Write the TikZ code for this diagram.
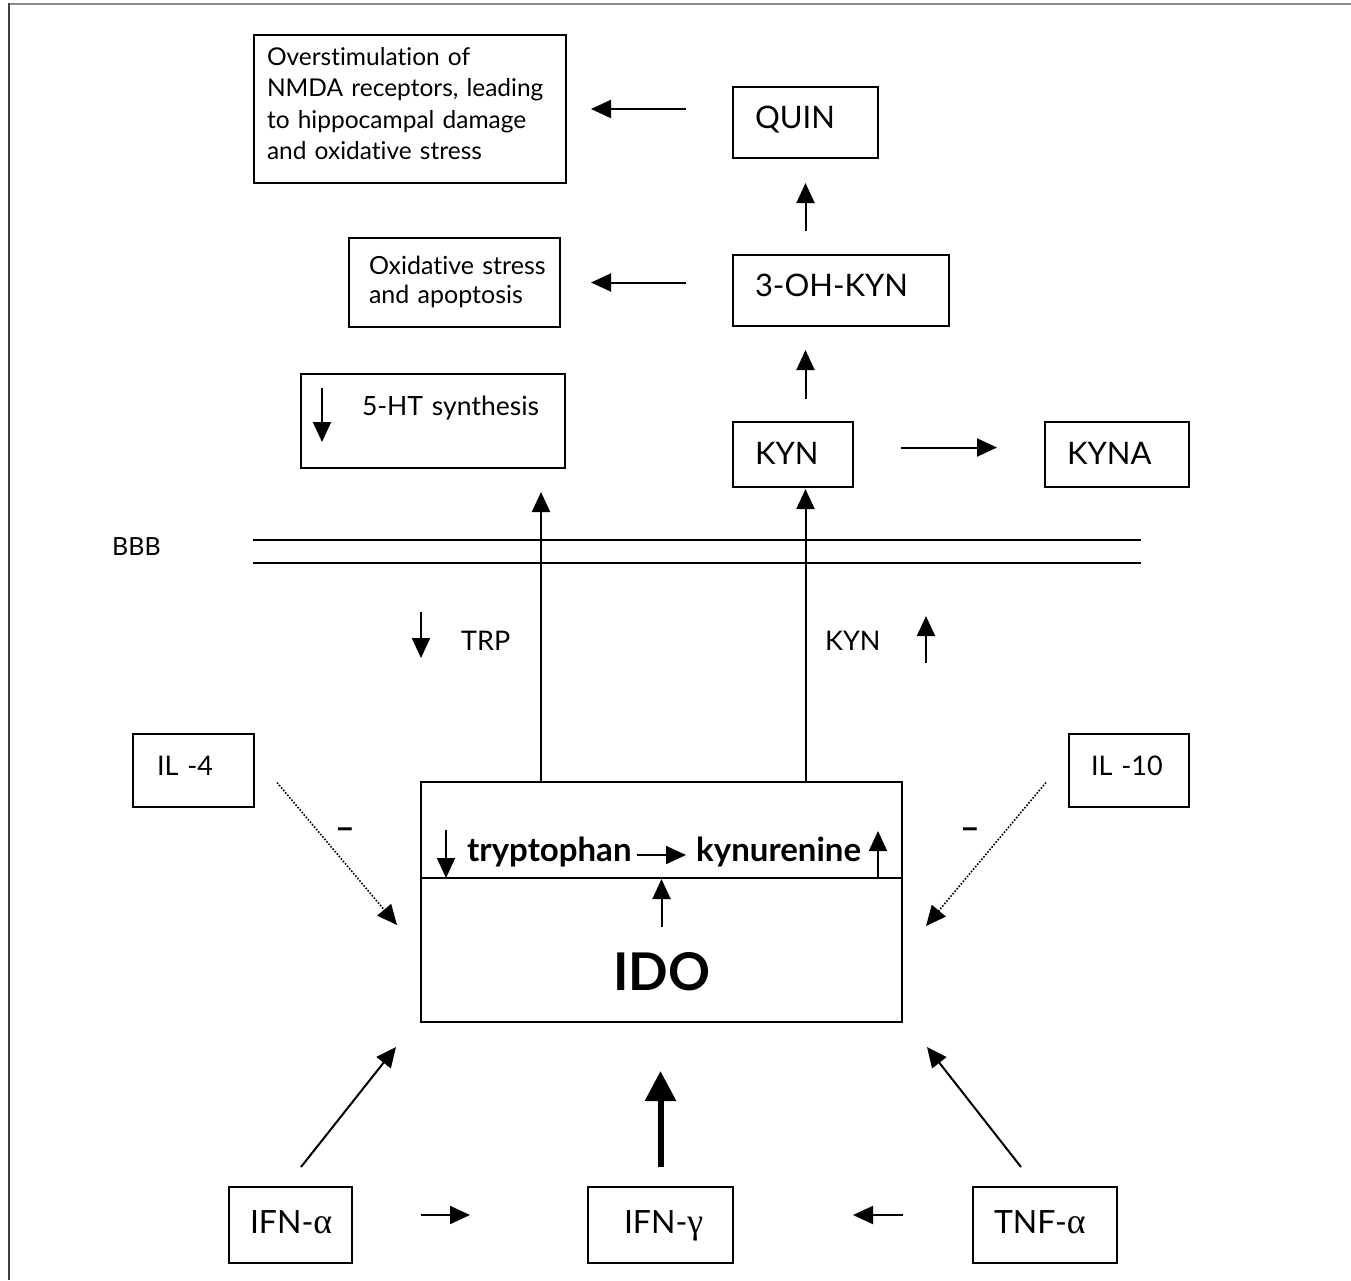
\documentclass[tikz,border=0pt]{standalone}
\usepackage{fontspec}
\setmainfont{Lato}[Ligatures={NoCommon}]
\newfontfamily\grk{Liberation Serif}[Scale=1.12]
\usetikzlibrary{arrows.meta,calc}
\newcommand\fsmain{\fontsize{27}{31.5}\selectfont}
\newcommand\fscap{\fontsize{31}{34}\selectfont}
\newcommand\fstext{\fontsize{24.5}{31.5}\selectfont}
\newcommand\fsox{\fontsize{25}{29.5}\selectfont}
\newcommand\fsifn{\fontsize{32}{34}\selectfont}
\begin{document}
\begin{tikzpicture}[x=1pt,y=-1pt,
  bx/.style={draw, line width=2.2pt, inner ysep=0pt, outer sep=0pt, align=left, anchor=north west, font=\fsmain},
  ar/.style={line width=2pt, -{Triangle[length=20pt,width=18pt]}},
  dar/.style={line width=1.6pt, dash pattern=on 1.6pt off 1.6pt, -{Triangle[length=20pt,width=18pt]}},
  lbl/.style={inner sep=0pt, anchor=base west, font=\fsmain},
  bld/.style={inner sep=0pt, anchor=base west, font=\fontsize{33}{34}\selectfont\bfseries}]
\useasboundingbox (0,0) rectangle (1351,1280);
% frame
\draw[black!45, line width=2pt] (8,4) -- (1351,4);
\draw[black!75, line width=2.5pt] (9,3) -- (9,1280);

% boxes
\node[bx, font=\fstext, inner xsep=13pt, text width=286pt, text height=30pt, text depth=118pt] (ovr) at (254,35)
  {\mbox{Overstimulation of}\\\mbox{NMDA receptors, leading}\\\mbox{to hippocampal damage}\\\mbox{and oxidative stress}};
\node[bx, font=\fscap, inner xsep=22pt, text width=101pt, text height=41pt, text depth=30pt] (quin) at (733,87) {\mbox{QUIN}};
\node[bx, font=\fscap, inner xsep=22pt, text width=172pt, text height=41pt, text depth=30pt] (oh) at (733,255) {\mbox{3-OH-KYN}};
\node[bx, font=\fsox, inner xsep=20pt, text width=171pt, text height=36pt, text depth=53pt] (oxid) at (349,238)
  {\mbox{Oxidative stress}\\\mbox{and apoptosis}};
\node[bx, font=\fontsize{26.5}{30}\selectfont, inner xsep=61pt, text width=142pt, text height=41pt, text depth=53pt] (ht) at (301,374) {\mbox{5-HT synthesis}};
\node[bx, font=\fscap, inner xsep=22pt, text width=76pt, text height=42pt, text depth=23pt] (kyn) at (733,422) {\mbox{KYN}};
\node[bx, font=\fscap, inner xsep=22pt, text width=100pt, text height=42pt, text depth=23pt] (kyna) at (1045,422) {\mbox{KYNA}};
\node[bx, inner xsep=24pt, text width=73pt, text height=41pt, text depth=32pt] (il4) at (133,734) {\mbox{IL -4}};
\node[bx, inner xsep=22pt, text width=76pt, text height=41pt, text depth=32pt] (il10) at (1069,734) {\mbox{IL -10}};
\node[bx, font=\fsifn, inner xsep=21pt, text width=81pt, text height=46.5pt, text depth=29.5pt] (ifa) at (229,1187) {\mbox{IFN-{\grk α}}};
\node[bx, font=\fsifn, inner xsep=36pt, text width=73pt, text height=46.5pt, text depth=29.5pt] (ifg) at (588,1187) {\mbox{IFN-{\grk γ}}};
\node[bx, font=\fsifn, inner xsep=21pt, text width=102pt, text height=46.5pt, text depth=29.5pt] (tnf) at (973,1187) {\mbox{TNF-{\grk α}}};
\node[bx, align=center, inner xsep=0pt, text width=481pt, text height=208pt, text depth=32pt,
      font=\fontsize{52}{54}\selectfont\bfseries] (ido) at (421,782) {IDO};

% labels
\node[lbl, font=\fontsize{25}{28}\selectfont] (bbb) at (112,555) {BBB};
\node[lbl] (trp) at (461,650) {TRP};
\node[lbl] (kynl) at (825,650) {KYN};
\node[bld] (tryp) at (467,861) {tryptophan};
\node[bld] (kynu) at (696,861) {kynurenine};
\node[inner sep=0pt, font=\fontsize{34}{34}\selectfont\bfseries] (m1) at (345,834) {–};
\node[inner sep=0pt, font=\fontsize{34}{34}\selectfont\bfseries] (m2) at (970,834) {–};

% BBB lines
\draw[line width=2pt] (253,540) -- (1141,540);
\draw[line width=2pt] (253,563) -- (1141,563);

% arrows upper part
\draw[ar, shorten <=47pt, shorten >=25pt] (quin.west |- ovr.east) -- (ovr.east);
\draw[ar, shorten <=47pt, shorten >=31pt] (oh.west |- oxid.east) -- (oxid.east);
\draw[ar, shorten <=24pt, shorten >=25pt] (oh.north -| quin.south) -- (quin.south);
\draw[ar, shorten <=23pt, shorten >=24pt] (kyn.north -| quin.south) -- (oh.south -| quin.south);
\draw[ar, shorten <=48pt, shorten >=48pt] ([yshift=7pt]kyn.east) -- ([yshift=7pt]kyna.west);
\draw[ar] ($(ht.north west)+(21,14)$) -- ($(ht.north west)+(21,68)$);

% arrows through BBB
\draw[ar, shorten >=24pt] ([xshift=120pt]ido.north west) -- ([xshift=120pt]ido.north west |- ht.south);
\draw[ar, shorten >=2pt] (ido.north -| quin.south) -- (kyn.south -| quin.south);
\draw[ar] ($(trp.base west)+(-40,-38)$) -- ($(trp.base west)+(-40,8)$);
\draw[ar] ($(kynl.base west)+(101,13)$) -- ($(kynl.base west)+(101,-34)$);

% IDO interior
\draw[line width=2.2pt] ($(ido.north west)+(0,96)$) -- ($(ido.north east)+(0,96)$);
\draw[ar] ($(ido.north west)+(25,48)$) -- ($(ido.north west)+(25,96)$);
\draw[ar] ($(ido.north east)+(-24,96)$) -- ($(ido.north east)+(-24,49)$);
\draw[ar, shorten <=5pt, shorten >=10pt] ([yshift=6pt]tryp.base east) -- ([yshift=6pt]kynu.base west);
\draw[ar] ($(ido.center)+(0,25)$) -- ($(ido.center)+(0,-23)$);

% inhibitors
\draw[dar] ($(il4.east)+(23,12)$) -- ($(ido.west)+(-24,23)$);
\draw[dar] ($(il10.west)+(-23,12)$) -- ($(ido.east)+(24,24)$);

% cytokines
\draw[ar] ($(ifa.north)+(10.5,-20)$) -- ($(ido.south west)+(-25,25)$);
\draw[ar] ($(tnf.north)+(-24,-20)$) -- ($(ido.south east)+(25,25)$);
\draw[line width=6pt, -{Triangle[length=30pt,width=30pt]}, shorten <=20pt, shorten >=49pt] (ifg.north) -- (ido.south -| ifg.north);
\draw[ar, shorten <=69pt, shorten >=118pt] ([yshift=10pt]ifa.east) -- ([yshift=10pt]ifg.west);
\draw[ar, shorten <=70pt, shorten >=120pt] ([yshift=10pt]tnf.west) -- ([yshift=10pt]ifg.east);
\end{tikzpicture}
\end{document}
